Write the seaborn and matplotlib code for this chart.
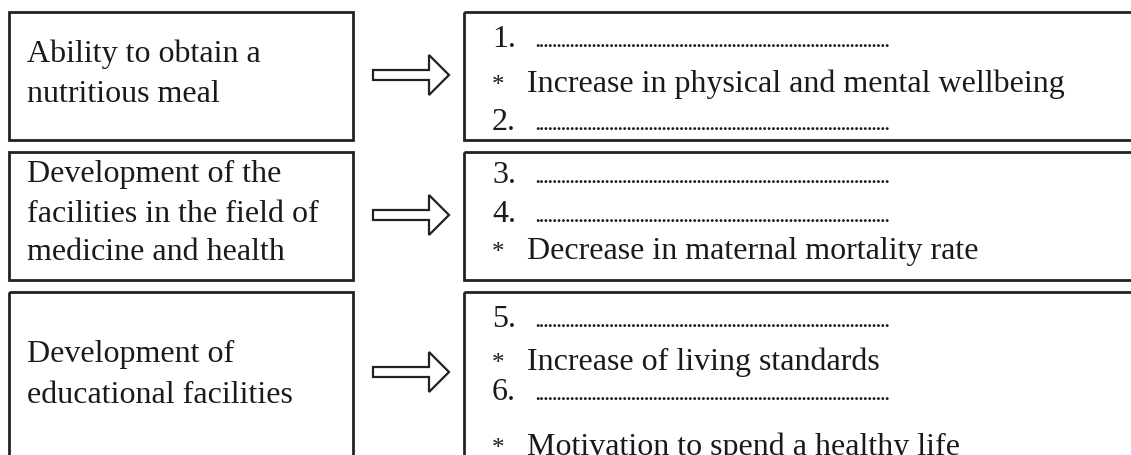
import matplotlib
matplotlib.use("Agg")
import matplotlib.pyplot as plt
from matplotlib.patches import Rectangle, Polygon
import seaborn as sns

# --- contenido del diagrama ---
causas = [
    ["Ability to obtain a", "nutritious meal"],
    ["Development of the", "facilities in the field of", "medicine and health"],
    ["Development of", "educational facilities"],
]
# "n." = hueco para completar ; "*" = resultado dado
efectos = [
    ["1.", "* Increase in physical and mental wellbeing", "2."],
    ["3.", "4.", "* Decrease in maternal mortality rate"],
    ["5.", "* Increase of living standards", "6.", "* Motivation to spend a healthy life"],
]

# --- maquetación (píxeles, origen arriba-izquierda) ---
W, H = 1131, 455
filas_y = [(12, 140), (152, 280), (292, 470)]
x_izq = (9, 353)
x_der = (464, 1140)
base_causas = [[62, 102], [182, 222, 260], [362, 403]]
base_efectos = [[47, 92, 130], [183, 222, 259], [327, 370, 400, 455]]
flechas_y = [75, 215, 372]
COLOR = "#222222"
TEXTO = "#1a1a1a"

sns.set_theme(style="white")
plt.rcParams["font.family"] = ["Liberation Serif", "DejaVu Serif"]

fig = plt.figure(figsize=(W / 100, H / 100), dpi=100)
ax = fig.add_axes([0, 0, 1, 1])
ax.set_xlim(0, W)
ax.set_ylim(H, 0)
ax.axis("off")

for i, (y0, y1) in enumerate(filas_y):
    # caja izquierda (causa)
    ax.add_patch(Rectangle((x_izq[0], y0), x_izq[1] - x_izq[0], y1 - y0,
                           fill=False, edgecolor=COLOR, lw=2))
    for linea, yb in zip(causas[i], base_causas[i]):
        ax.text(27, yb, linea, fontsize=23, va="baseline", ha="left", color=TEXTO)

    # flecha hueca
    yc = flechas_y[i]
    pts = [(373, yc - 5), (429, yc - 5), (429, yc - 20), (449, yc),
           (429, yc + 20), (429, yc + 5), (373, yc + 5)]
    ax.add_patch(Polygon(pts, closed=True, facecolor="white",
                         edgecolor=COLOR, lw=1.6))

    # caja derecha (efectos)
    ax.add_patch(Rectangle((x_der[0], y0), x_der[1] - x_der[0], y1 - y0,
                           fill=False, edgecolor=COLOR, lw=2))
    for item, yb in zip(efectos[i], base_efectos[i]):
        if item.startswith("*"):
            ax.text(492, yb, "*", fontsize=18, va="baseline", ha="left", color=TEXTO)
            ax.text(527, yb, item[2:], fontsize=23, va="baseline", ha="left",
                    color=TEXTO)
        else:
            ax.text(492, yb, item, fontsize=23, va="baseline", ha="left", color=TEXTO)
            ax.text(535, yb, "." * 81, fontsize=12.5, fontweight="bold",
                    va="baseline", ha="left", color=TEXTO)

fig.savefig("out.png", dpi=100, facecolor="white")
plt.close(fig)
